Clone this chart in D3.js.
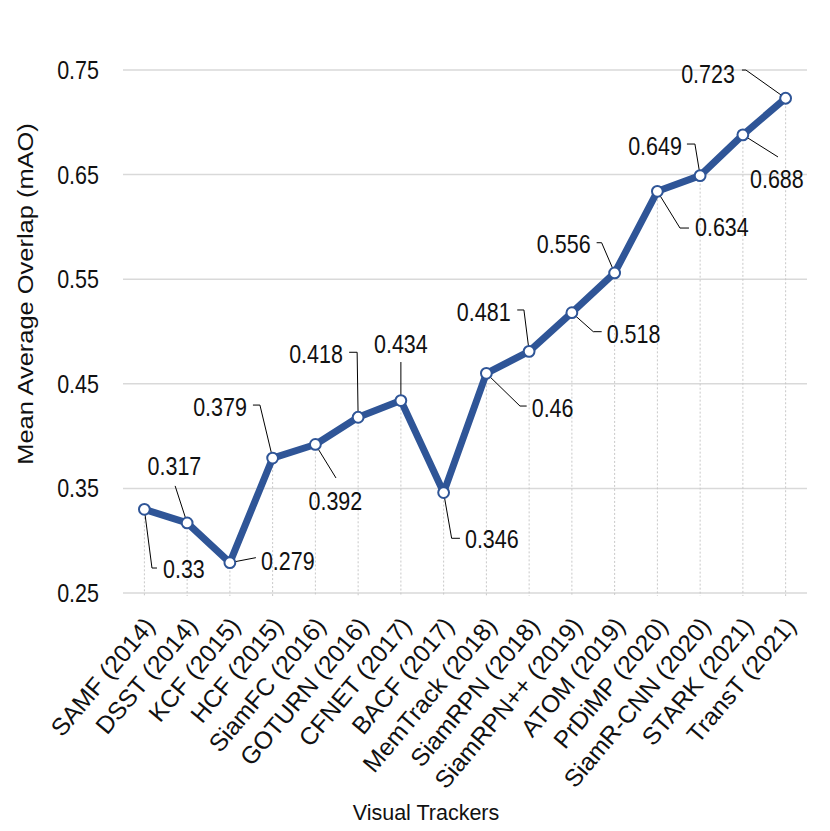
<!DOCTYPE html>
<html><head><meta charset="utf-8">
<script src="https://cdn.jsdelivr.net/npm/d3@7"></script>
<style>body{margin:0;background:#fff}svg{display:block}</style>
</head><body>
<svg id="c" width="830" height="831"></svg>
<script>
// ---- data ----
const categories = ["SAMF (2014)","DSST (2014)","KCF (2015)","HCF (2015)","SiamFC (2016)","GOTURN (2016)","CFNET (2017)","BACF (2017)","MemTrack (2018)","SiamRPN (2018)","SiamRPN++ (2019)","ATOM (2019)","PrDiMP (2020)","SiamR-CNN (2020)","STARK (2021)","TransT (2021)"];
const values = [0.33,0.317,0.279,0.379,0.392,0.418,0.434,0.346,0.46,0.481,0.518,0.556,0.634,0.649,0.688,0.723];
const yTicks = [0.25,0.35,0.45,0.55,0.65,0.75];
const yTickLabels = ["0.25","0.35","0.45","0.55","0.65","0.75"];
const valueLabels = ["0.33","0.317","0.279","0.379","0.392","0.418","0.434","0.346","0.46","0.481","0.518","0.556","0.634","0.649","0.688","0.723"];
const yTitle = "Mean Average Overlap (mAO)";
const xTitle = "Visual Trackers";

// ---- label layout (pixel offsets from each point) ----
const labelLayout = [
  {a:"start", dx:18.6, dy:59.7, l:[[0,0],[7.6,58.7],[12.6,58.7]]},
  {a:"middle",dx:-12.7,dy:-57,  l:[[0,0],[-12,-37]]},
  {a:"start", dx:31,   dy:-1.7, l:[[0,0],[26,-5]]},
  {a:"end",   dx:-25.7,dy:-51,  l:[[0,0],[-12.7,-53],[-19.7,-53]]},
  {a:"middle",dx:20,   dy:56.5, l:[[0,0],[20.6,33.5]]},
  {a:"end",   dx:-15.2,dy:-63,  l:[[0,0],[-1,-65],[-9,-65]]},
  {a:"middle",dx:0,    dy:-56.5,l:[[0,0],[0,-38.5]]},
  {a:"start", dx:21.3, dy:46.4, l:[[0,0],[8,45.7],[16.3,45.7]]},
  {a:"start", dx:45.3, dy:34.2, l:[[0,0],[33.6,32.7],[40.3,32.7]]},
  {a:"end",   dx:-18.5,dy:-39.4,l:[[0,0],[-5.2,-41.4],[-11.9,-41.4]]},
  {a:"start", dx:34.8, dy:21.5, l:[[0,0],[21.4,19],[29.8,19]]},
  {a:"end",   dx:-24,  dy:-28.9,l:[[0,0],[-13,-30.2],[-18,-30.2]]},
  {a:"start", dx:37.6, dy:35.7, l:[[0,0],[22.6,36.7],[31.6,36.7]]},
  {a:"end",   dx:-18.2,dy:-29.6,l:[[0,0],[-5.2,-31.6],[-13.2,-31.6]]},
  {a:"start", dx:7.1,  dy:44,   l:[[0,0],[35.1,22.1]]},
  {a:"end",   dx:-50.7,dy:-24.7,l:[[0,0],[-39.7,-28.2],[-43.7,-28.2]]}
];

const S = 1.2; // vertical text stretch
const FONT = "'Liberation Sans', Arial, sans-serif";
const lineColor = "#2F5597";

const svg = d3.select("#c");
const x = d3.scaleBand().domain(categories).range([123, 807]).padding(0);
const y = d3.scaleLinear().domain([0.25, 0.75]).range([593, 70]);
const cx = d => x(d) + x.bandwidth() / 2;

function sText(g, px, py, str, size, anchor, extra) {
  return g.append("text")
    .attr("transform", `translate(${px},${py}) scale(1,${S})` + (extra || ""))
    .attr("text-anchor", anchor)
    .attr("dy", "0.35em")
    .attr("font-family", FONT)
    .attr("font-size", size)
    .attr("fill", "#111")
    .text(str);
}

// gridlines
const grid = svg.append("g");
grid.selectAll("line").data(yTicks).join("line")
  .attr("x1", 123).attr("x2", 807)
  .attr("y1", d => y(d)).attr("y2", d => y(d))
  .attr("stroke", "#d9d9d9").attr("stroke-width", 1.5);

// y tick labels
const yl = svg.append("g");
yTicks.forEach((t, i) => sText(yl, 99, y(t), yTickLabels[i], 21.5, "end"));

// drop lines
svg.append("g").selectAll("line").data(categories).join("line")
  .attr("x1", d => cx(d)).attr("x2", d => cx(d))
  .attr("y1", (d, i) => y(values[i])).attr("y2", y(0.25) + 3)
  .attr("stroke", "#c8c8c8").attr("stroke-width", 1).attr("stroke-dasharray", "2,2");

// leaders
const lead = svg.append("g");
categories.forEach((c, i) => {
  const px = cx(c), py = y(values[i]);
  lead.append("polyline")
    .attr("points", labelLayout[i].l.map(p => [px + p[0], py + p[1]].join(",")).join(" "))
    .attr("fill", "none").attr("stroke", "#000").attr("stroke-width", 1);
});

// line
const line = d3.line().x((d, i) => cx(categories[i])).y(d => y(d));
svg.append("path").datum(values)
  .attr("d", line).attr("fill", "none")
  .attr("stroke", lineColor).attr("stroke-width", 7)
  .attr("stroke-linejoin", "round");

// markers
svg.append("g").selectAll("circle").data(values).join("circle")
  .attr("cx", (d, i) => cx(categories[i])).attr("cy", d => y(d))
  .attr("r", 5.4).attr("fill", "#fff")
  .attr("stroke", lineColor).attr("stroke-width", 2);

// value labels
const vl = svg.append("g");
categories.forEach((c, i) => {
  const L = labelLayout[i];
  sText(vl, cx(c) + L.dx, y(values[i]) + L.dy, valueLabels[i], 21.5, L.a);
});

// category labels
const cl = svg.append("g");
categories.forEach(c => {
  cl.append("text")
    .attr("transform", `translate(${cx(c) + 5},${621}) rotate(-50)`)
    .attr("text-anchor", "end")
    .attr("dy", "0.35em")
    .attr("font-family", FONT)
    .attr("font-size", 24.5)
    .attr("fill", "#111")
    .text(c);
});

// axis titles
svg.append("text")
  .attr("transform", `translate(26,294) scale(1,${S}) rotate(-90)`)
  .attr("text-anchor", "middle").attr("dy", "0.35em")
  .attr("font-family", FONT).attr("font-size", 21.2).attr("fill", "#111")
  .text(yTitle);
svg.append("text")
  .attr("x", 426).attr("y", 812)
  .attr("text-anchor", "middle").attr("dy", "0.35em")
  .attr("font-family", FONT).attr("font-size", 21.5).attr("fill", "#111")
  .text(xTitle);
</script>
</body></html>
